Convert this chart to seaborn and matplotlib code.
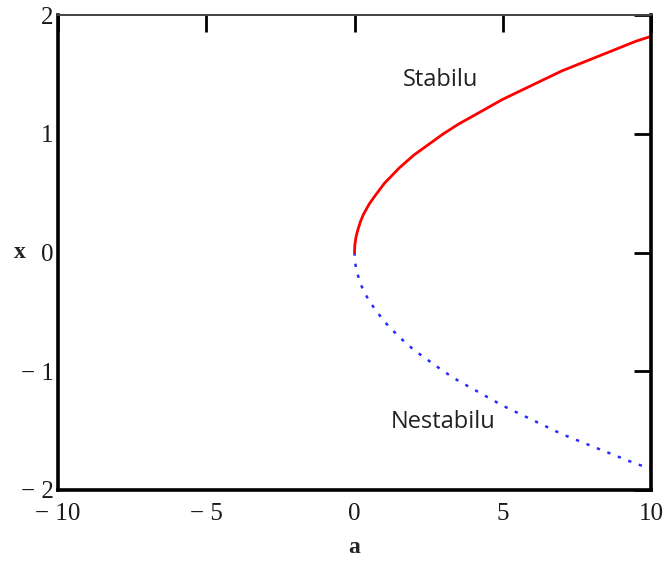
import matplotlib
matplotlib.use("Agg")
import matplotlib.pyplot as plt
import seaborn as sns
import pandas as pd

# Data
a_vals = [0.0, 0.01, 0.05, 0.1, 0.2, 0.3, 0.5, 0.7, 1, 1.5, 2, 2.5, 3, 3.5, 4, 4.5, 5,
          5.5, 6, 6.5, 7, 7.5, 8, 8.5, 9, 9.5, 10]
stable_x = [0.0, 0.06, 0.13, 0.18, 0.26, 0.32, 0.41, 0.48, 0.58, 0.71, 0.82, 0.91, 1.0,
            1.08, 1.15, 1.22, 1.29, 1.35, 1.41, 1.47, 1.53, 1.58, 1.63, 1.68, 1.73, 1.78, 1.82]
unstable_x = [-v for v in stable_x]

x_ticks = [-10, -5, 0, 5, 10]
x_tick_labels = ["\u2212 10", "\u2212 5", "0", "5", "10"]
y_ticks = [-2, -1, 0, 1, 2]
y_tick_labels = ["\u2212 2", "\u2212 1", "0", "1", "2"]

df = pd.DataFrame({"a": a_vals, "stable": stable_x, "unstable": unstable_x})

sns.set_style("white")
plt.rcParams["font.family"] = ["Liberation Serif", "DejaVu Serif"]

fig = plt.figure(figsize=(6.68, 5.62), dpi=100)
ax = fig.add_axes([58 / 668, 1 - 490 / 562, (651 - 58) / 668, (490 - 15) / 562])

sns.lineplot(data=df, x="a", y="unstable", ax=ax, color="#2a2aff", lw=1.8,
             linestyle=(0, (1.3, 3.2)), estimator=None, sort=False)
sns.lineplot(data=df, x="a", y="stable", ax=ax, color="#ff0000", lw=2.0,
             estimator=None, sort=False)

ax.set_xlim(-10, 10)
ax.set_ylim(-2, 2)
ax.set_xticks(x_ticks)
ax.set_xticklabels(x_tick_labels)
ax.set_yticks(y_ticks)
ax.set_yticklabels(y_tick_labels)

ax.tick_params(axis="both", direction="in", length=12, width=2, color="black",
               labelsize=18, labelcolor="#1a1a1a", pad=3,
               top=True, right=True)
ax.tick_params(axis="x", pad=9)

for side in ["left", "bottom", "right"]:
    ax.spines[side].set_linewidth(2.6)
    ax.spines[side].set_color("black")
    ax.spines[side].set_visible(True)
ax.spines["top"].set_linewidth(1.4)
ax.spines["top"].set_color("#444444")
ax.spines["top"].set_visible(True)

ax.set_xlabel("a", fontsize=17, fontweight="bold", labelpad=9)
ax.set_ylabel("x", fontsize=17, fontweight="bold", rotation=0, labelpad=1, va="center")

ax.text(2.9, 1.45, "Stabilu", fontsize=17, family=["Open Sans", "DejaVu Sans"],
        color="#222222", ha="center", va="center")
ax.text(3.0, -1.43, "Nestabilu", fontsize=17, family=["Open Sans", "DejaVu Sans"],
        color="#222222", ha="center", va="center")

fig.savefig("out.png", dpi=100)
